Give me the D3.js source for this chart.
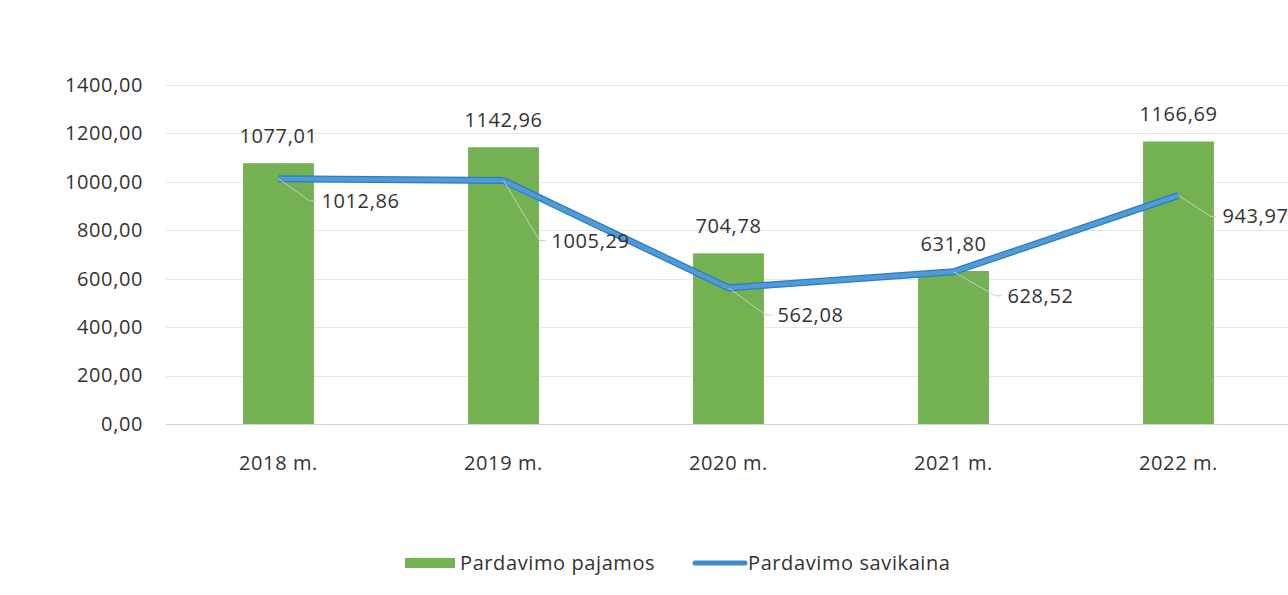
<!DOCTYPE html>
<html>
<head>
<meta charset="utf-8">
<script src="https://cdn.jsdelivr.net/npm/d3@7"></script>
<style>
  body { margin: 0; background: #fff; }
  text { font-family: "Open Sans", "Noto Sans", sans-serif; fill: #333; letter-spacing: 0.6px; }
</style>
</head>
<body>
<script>
// data
var years = ["2018 m.", "2019 m.", "2020 m.", "2021 m.", "2022 m."];
var pajamos = [1077.01, 1142.96, 704.78, 631.80, 1166.69];
var savikaina = [1012.86, 1005.29, 562.08, 628.52, 943.97];
var yTicks = [0, 200, 400, 600, 800, 1000, 1200, 1400];

// manual nudges for the line labels (dx, dy from the point)
var lineLabelNudge = [[43, 29], [48, 67], [49, 34], [54, 31], [44, 28]];

var width = 1288, height = 595;
var fontSize = "20px";
var fmt = function (v) { return v.toFixed(2).replace(".", ","); };

var svg = d3.select("body").append("svg")
    .attr("width", width)
    .attr("height", height);

var x = d3.scaleBand()
    .domain(years)
    .range([166, 1291])
    .paddingInner(0.685)
    .paddingOuter(0.3425);

var y = d3.scaleLinear()
    .domain([0, 1400])
    .range([424, 85]);

// gridlines
svg.append("g")
    .selectAll("line")
    .data(yTicks)
    .enter()
    .append("line")
    .attr("x1", 166)
    .attr("x2", width)
    .attr("y1", function (d) { return Math.round(y(d)) + 0.5; })
    .attr("y2", function (d) { return Math.round(y(d)) + 0.5; })
    .attr("stroke", function (d) { return d === 0 ? "#d0d0d0" : "#e6e6e6"; })
    .attr("stroke-width", 1);

// y axis labels
var yAxis = d3.axisLeft(y)
    .tickValues(yTicks)
    .tickFormat(fmt)
    .tickSize(0)
    .tickPadding(0);
var gy = svg.append("g")
    .attr("transform", "translate(143,0)")
    .call(yAxis);
gy.select(".domain").remove();
gy.selectAll("text")
    .style("font-size", fontSize)
    .style("font-family", "'Open Sans', sans-serif")
    .attr("fill", "#333");

// x axis labels
var xAxis = d3.axisBottom(x).tickSize(0).tickPadding(0);
var gx = svg.append("g")
    .attr("transform", "translate(0,456)")
    .call(xAxis);
gx.select(".domain").remove();
gx.selectAll("text")
    .style("font-size", fontSize)
    .style("font-family", "'Open Sans', sans-serif")
    .attr("fill", "#333");

// bars
svg.selectAll(".bar")
    .data(pajamos)
    .enter()
    .append("rect")
    .attr("class", "bar")
    .attr("x", function (d, i) { return x(years[i]); })
    .attr("width", x.bandwidth())
    .attr("y", function (d) { return y(d); })
    .attr("height", function (d) { return y(0) - y(d); })
    .attr("fill", "#74b152");

// bar labels
svg.selectAll(".barLabel")
    .data(pajamos)
    .enter()
    .append("text")
    .attr("x", function (d, i) { return x(years[i]) + x.bandwidth() / 2; })
    .attr("y", function (d) { return y(d) - 20; })
    .attr("text-anchor", "middle")
    .style("font-size", fontSize)
    .text(fmt);

// line
var cx = function (d, i) { return x(years[i]) + x.bandwidth() / 2; };
var line = d3.line()
    .x(cx)
    .y(function (d) { return y(d); });

svg.append("path")
    .datum(savikaina)
    .attr("d", line)
    .attr("fill", "none")
    .attr("stroke", "#2f7cbd")
    .attr("stroke-width", 7)
    .attr("stroke-linejoin", "round");
svg.append("path")
    .datum(savikaina)
    .attr("d", line)
    .attr("fill", "none")
    .attr("stroke", "#4d9bd8")
    .attr("stroke-width", 4.5)
    .attr("stroke-linejoin", "round");

// leader lines
svg.selectAll(".leader")
    .data(savikaina)
    .enter()
    .append("polyline")
    .attr("fill", "none")
    .attr("stroke", "#c8c8c8")
    .attr("stroke-width", 1)
    .attr("points", function (d, i) {
        var px = cx(d, i), py = y(d);
        var n = lineLabelNudge[i];
        var ex = px + n[0] - 12, ey = py + n[1] - 7;
        return [[px, py], [ex, ey], [ex + 6, ey]].join(" ");
    });

// line labels
svg.selectAll(".lineLabel")
    .data(savikaina)
    .enter()
    .append("text")
    .attr("x", function (d, i) { return cx(d, i) + lineLabelNudge[i][0]; })
    .attr("y", function (d, i) { return y(d) + lineLabelNudge[i][1]; })
    .style("font-size", fontSize)
    .text(fmt);

// legend
var legend = svg.append("g");
legend.append("rect")
    .attr("x", 405).attr("y", 558)
    .attr("width", 50).attr("height", 10)
    .attr("fill", "#74b152");
legend.append("text")
    .attr("x", 460).attr("y", 570)
    .style("font-size", fontSize)
    .text("Pardavimo pajamos");
legend.append("line")
    .attr("x1", 695).attr("x2", 745)
    .attr("y1", 563).attr("y2", 563)
    .attr("stroke", "#3d8ccc")
    .attr("stroke-width", 5)
    .attr("stroke-linecap", "round");
legend.append("text")
    .attr("x", 748).attr("y", 570)
    .style("font-size", fontSize)
    .text("Pardavimo savikaina");
</script>
</body>
</html>
